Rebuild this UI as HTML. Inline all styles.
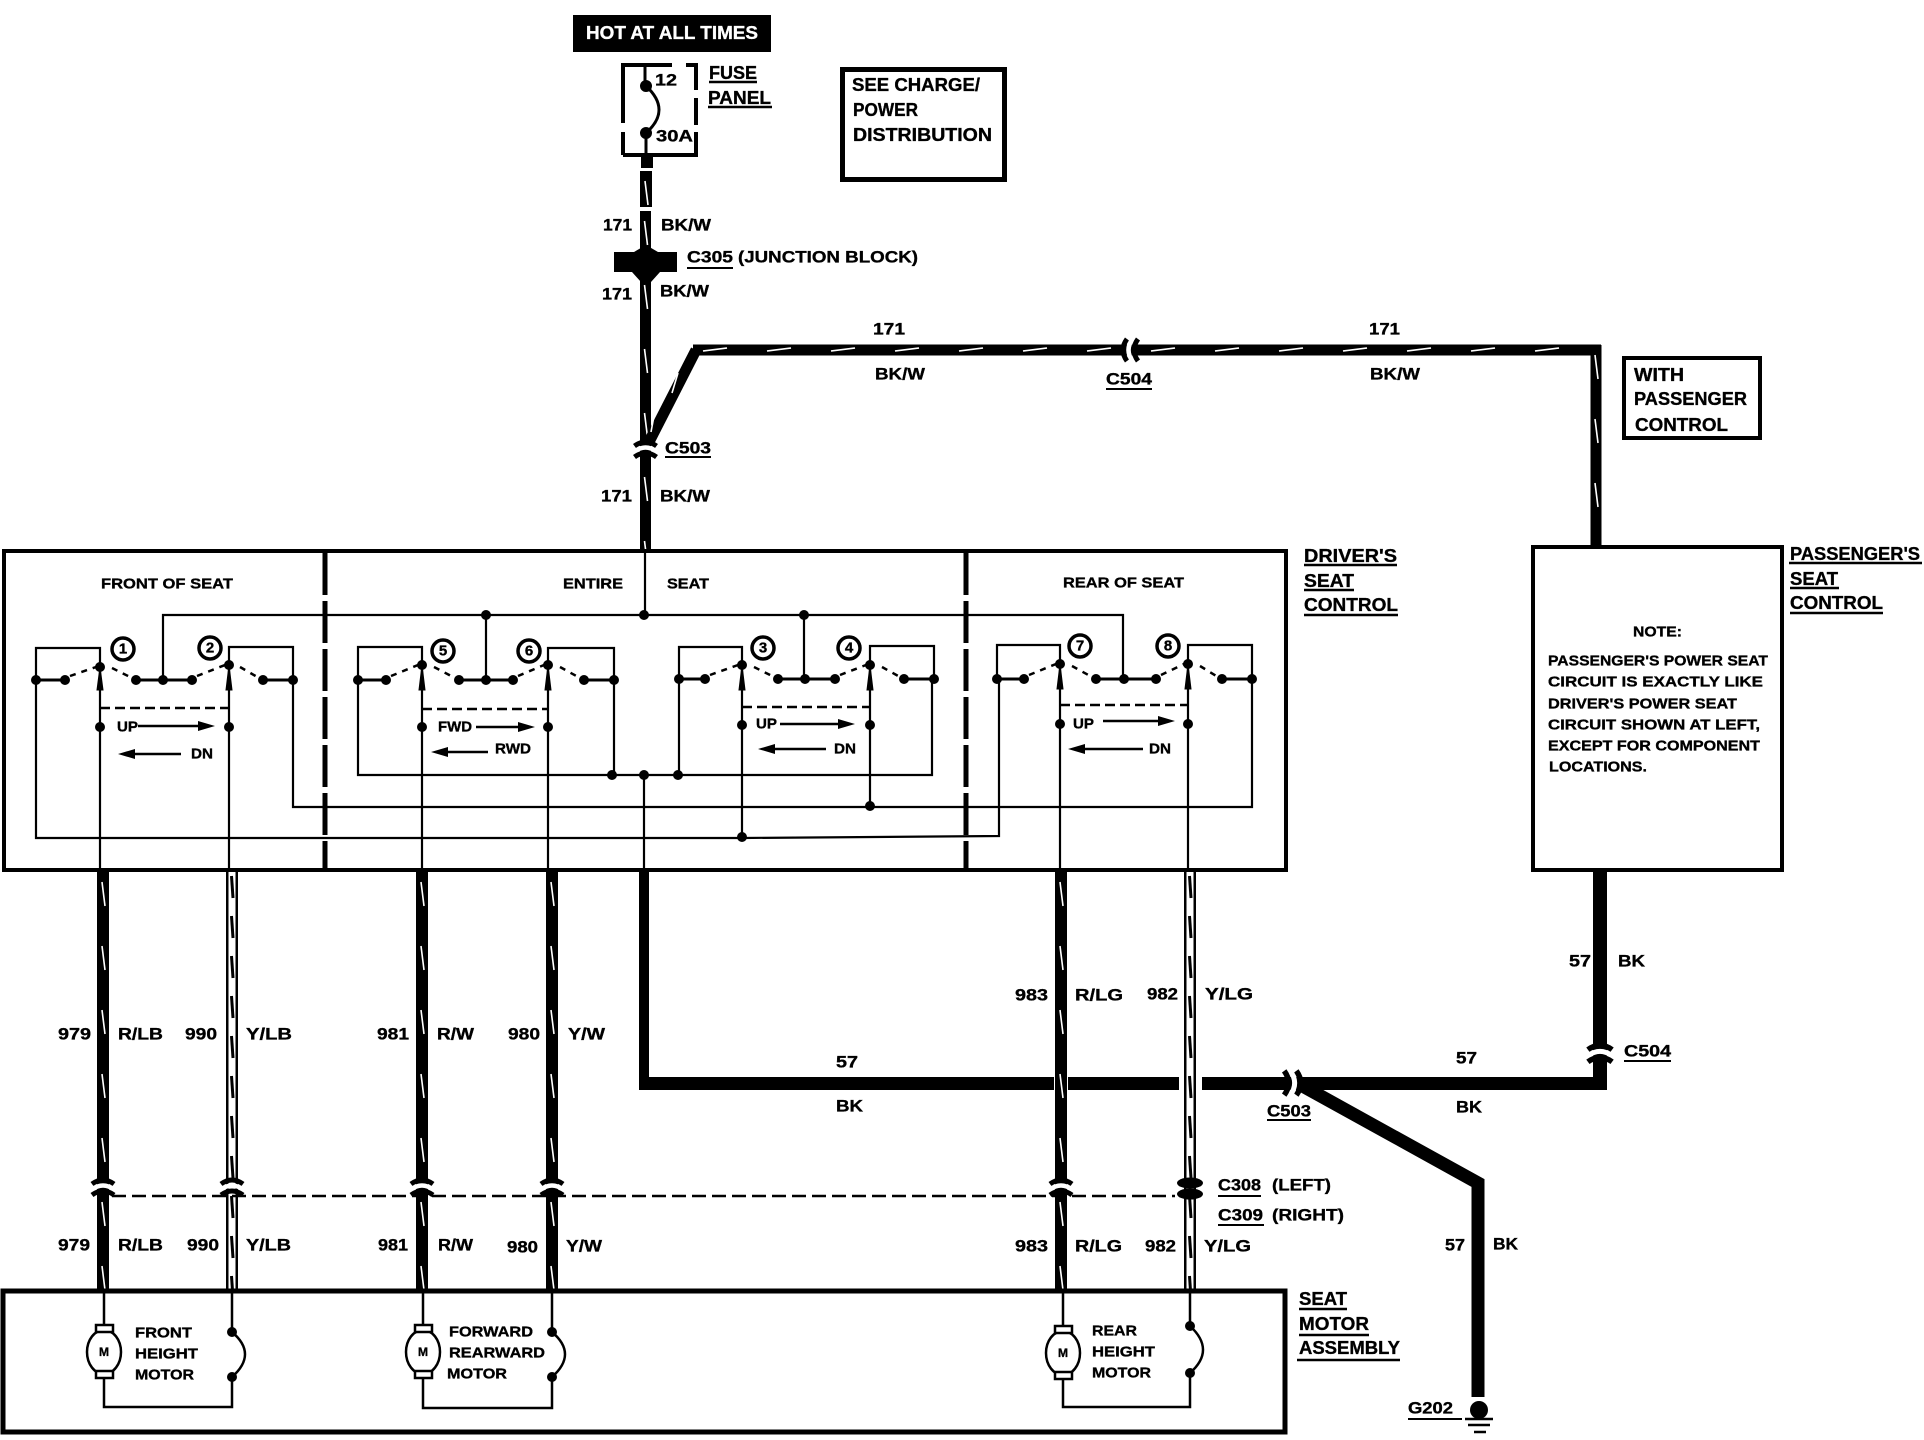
<!DOCTYPE html>
<html><head><meta charset="utf-8"><style>
html,body{margin:0;padding:0;background:#fff}
svg{display:block}
text{font-family:"Liberation Sans",sans-serif;font-weight:bold;font-size:17px;dominant-baseline:central;fill:#000;stroke:#000;stroke-width:.35px}
.s{font-size:15px}
.n{font-size:15px}
</style></head><body>
<svg width="1924" height="1440" viewBox="0 0 1924 1440" xmlns="http://www.w3.org/2000/svg">
<defs>
<pattern id="w" patternUnits="userSpaceOnUse" x="-6" y="0" width="12" height="64">
<rect x="0" y="0" width="12" height="64" fill="#000"/><path d="M5 10L8 34" stroke="#fff" stroke-width="1.6"/>
</pattern>
<pattern id="z" patternUnits="userSpaceOnUse" x="-6" y="0" width="12" height="40">
<rect x="0" y="0" width="12" height="40" fill="#fff"/><rect x="0" y="0" width="2.5" height="40" fill="#000"/><rect x="9.5" y="0" width="2.5" height="40" fill="#000"/><path d="M5.5 4L7 26" stroke="#000" stroke-width="3"/>
</pattern>
<g id="cv"><path d="M-11 -3Q0 -11 11 -3" fill="none" stroke="#000" stroke-width="5"/><path d="M-11 2.5Q0 -5.5 11 2.5" fill="none" stroke="#fff" stroke-width="4.5"/><path d="M-11 8Q0 0 11 8" fill="none" stroke="#000" stroke-width="5"/></g>
<g id="mot"><ellipse cx="0" cy="0" rx="17" ry="22" fill="#fff" stroke="#000" stroke-width="2.5"/><rect x="-8" y="-27" width="17" height="7" fill="#fff" stroke="#000" stroke-width="2.5"/><rect x="-8" y="19" width="17" height="7" fill="#fff" stroke="#000" stroke-width="2.5"/><text x="-5" y="0" class="n" style="font-size:12px">M</text></g>
</defs>

<!-- top -->
<rect x="573" y="15" width="198" height="37" fill="#000"/>
<text x="586" y="33" textLength="172" lengthAdjust="spacingAndGlyphs" style="fill:#fff;stroke:#fff;font-size:18px">HOT AT ALL TIMES</text>
<path d="M623 155V65H672M686 65H696V90M696 98V125M696 132V155H623M623 90V122" fill="none" stroke="#000" stroke-width="4"/>
<path d="M623 123v9" stroke="#fff" stroke-width="5"/>
<path d="M645 65V86M646 86Q672 110 646 133M646 133V155" fill="none" stroke="#000" stroke-width="3"/>
<path d="M646 86h0M646 133h0" stroke="#000" stroke-width="12" stroke-linecap="round"/>
<rect x="641" y="153" width="12" height="15" fill="#000"/>
<text x="655" y="80" textLength="22" lengthAdjust="spacingAndGlyphs">12</text>
<text x="656" y="136" textLength="37" lengthAdjust="spacingAndGlyphs">30A</text>
<text x="709" y="73" textLength="48" lengthAdjust="spacingAndGlyphs" style="font-size:18px">FUSE</text><path d="M709 82h48M708 107h64" stroke="#000" stroke-width="2.5"/>
<text x="708" y="98" textLength="63" lengthAdjust="spacingAndGlyphs" style="font-size:18px">PANEL</text>
<rect x="842.5" y="69.5" width="162" height="110" fill="none" stroke="#000" stroke-width="5"/>
<text x="852" y="85" textLength="128" lengthAdjust="spacingAndGlyphs" style="font-size:18px">SEE CHARGE/</text>
<text x="853" y="110" textLength="65" lengthAdjust="spacingAndGlyphs" style="font-size:18px">POWER</text>
<text x="853" y="135" textLength="139" lengthAdjust="spacingAndGlyphs" style="font-size:18px">DISTRIBUTION</text>

<!-- main feed -->
<rect transform="translate(646,171)" x="-6" y="0" width="12" height="36" fill="url(#w)"/>
<rect transform="translate(645.5,211)" x="-5.5" y="0" width="11" height="340" fill="url(#w)"/>
<path d="M614 252H634L646 245L658 252H677V272H660L651 282H641L632 272H614Z" fill="#000"/>
<path d="M696 350L650 440" stroke="#000" stroke-width="11" fill="none" stroke-linejoin="miter"/>
<path d="M678 373L672 393M654 416L651 432" stroke="#fff" stroke-width="1.6"/>
<rect transform="translate(693,350) rotate(-90)" x="-5.5" y="0" width="11" height="908" fill="url(#w)"/>
<rect x="1590.5" y="345" width="11" height="10" fill="#000"/>
<rect transform="translate(1596,345)" x="-5.5" y="0" width="11" height="202" fill="url(#w)"/>
<use href="#cv" transform="translate(1130,350) rotate(-90)"/>
<use href="#cv" transform="translate(645.5,449)"/>
<text x="603" y="225" textLength="29" lengthAdjust="spacingAndGlyphs">171</text>
<text x="661" y="225" textLength="50" lengthAdjust="spacingAndGlyphs">BK/W</text>
<text x="687" y="257" textLength="46" lengthAdjust="spacingAndGlyphs">C305</text><path d="M687 268h46" stroke="#000" stroke-width="2"/>
<text x="738" y="257" textLength="180" lengthAdjust="spacingAndGlyphs">(JUNCTION BLOCK)</text>
<text x="602" y="294" textLength="30" lengthAdjust="spacingAndGlyphs">171</text>
<text x="660" y="291" textLength="49" lengthAdjust="spacingAndGlyphs">BK/W</text>
<text x="665" y="448" textLength="46" lengthAdjust="spacingAndGlyphs">C503</text><path d="M665 457h46" stroke="#000" stroke-width="2"/>
<text x="601" y="496" textLength="31" lengthAdjust="spacingAndGlyphs">171</text>
<text x="660" y="496" textLength="50" lengthAdjust="spacingAndGlyphs">BK/W</text>
<text x="873" y="329" textLength="32" lengthAdjust="spacingAndGlyphs">171</text>
<text x="875" y="374" textLength="50" lengthAdjust="spacingAndGlyphs">BK/W</text>
<text x="1106" y="379" textLength="46" lengthAdjust="spacingAndGlyphs">C504</text><path d="M1106 389h46" stroke="#000" stroke-width="2"/>
<text x="1369" y="329" textLength="31" lengthAdjust="spacingAndGlyphs">171</text>
<text x="1370" y="374" textLength="50" lengthAdjust="spacingAndGlyphs">BK/W</text>

<!-- with passenger -->
<rect x="1624" y="358" width="136" height="80" fill="none" stroke="#000" stroke-width="4"/>
<text x="1634" y="375" textLength="50" lengthAdjust="spacingAndGlyphs" style="font-size:18px">WITH</text>
<text x="1634" y="399" textLength="113" lengthAdjust="spacingAndGlyphs" style="font-size:18px">PASSENGER</text>
<text x="1635" y="425" textLength="93" lengthAdjust="spacingAndGlyphs" style="font-size:18px">CONTROL</text>

<!-- passenger box -->
<rect x="1533" y="547" width="249" height="323" fill="#fff" stroke="#000" stroke-width="4"/>
<text x="1790" y="554" textLength="130" lengthAdjust="spacingAndGlyphs" style="font-size:18px">PASSENGER'S</text><path d="M1789 563h133M1790 588h49M1790 613h93" stroke="#000" stroke-width="2.5"/>
<text x="1790" y="579" textLength="48" lengthAdjust="spacingAndGlyphs" style="font-size:18px">SEAT</text>
<text x="1790" y="603" textLength="93" lengthAdjust="spacingAndGlyphs" style="font-size:18px">CONTROL</text>
<text x="1633" y="632" textLength="49" lengthAdjust="spacingAndGlyphs" class="s">NOTE:</text>
<text x="1548" y="661" textLength="220" lengthAdjust="spacingAndGlyphs" class="s">PASSENGER'S POWER SEAT</text>
<text x="1548" y="682" textLength="215" lengthAdjust="spacingAndGlyphs" class="s">CIRCUIT IS EXACTLY LIKE</text>
<text x="1548" y="704" textLength="189" lengthAdjust="spacingAndGlyphs" class="s">DRIVER'S POWER SEAT</text>
<text x="1548" y="725" textLength="212" lengthAdjust="spacingAndGlyphs" class="s">CIRCUIT SHOWN AT LEFT,</text>
<text x="1548" y="746" textLength="212" lengthAdjust="spacingAndGlyphs" class="s">EXCEPT FOR COMPONENT</text>
<text x="1549" y="767" textLength="98" lengthAdjust="spacingAndGlyphs" class="s">LOCATIONS.</text>

<!-- bottom black wires -->
<rect x="639" y="870" width="10" height="219" fill="#000"/>
<rect x="639" y="1077" width="540" height="13" fill="#000"/>
<rect x="1202" y="1077" width="405" height="13" fill="#000"/>
<rect x="1593" y="870" width="14" height="220" fill="#000"/>
<use href="#cv" transform="translate(1600,1053) scale(1.1)"/>
<use href="#cv" transform="translate(1293,1083) rotate(90) scale(1.1)"/>
<path d="M1299 1084L1478 1183V1397" fill="none" stroke="#000" stroke-width="13"/>
<circle cx="1479" cy="1410" r="9" fill="#000"/>
<path d="M1465 1419h28M1468 1425h22M1474 1432h12" stroke="#000" stroke-width="2.5"/>
<path d="M1408 1419h54" stroke="#000" stroke-width="2"/>
<text x="1408" y="1408" textLength="45" lengthAdjust="spacingAndGlyphs">G202</text>

<!-- vertical wires -->
<rect x="1054" y="1072" width="14" height="23" fill="#fff"/>
<rect transform="translate(103,872)" x="-6" y="0" width="12" height="420" fill="url(#w)"/>
<rect transform="translate(232,872)" x="-6" y="0" width="12" height="420" fill="url(#z)"/>
<rect transform="translate(422,872)" x="-6" y="0" width="12" height="420" fill="url(#w)"/>
<rect transform="translate(552,872)" x="-6" y="0" width="12" height="420" fill="url(#w)"/>
<rect transform="translate(1061,872)" x="-6" y="0" width="12" height="420" fill="url(#w)"/>
<rect transform="translate(1190,872)" x="-6" y="0" width="12" height="420" fill="url(#z)"/>
<path d="M112 1196H1175" stroke="#000" stroke-width="2.5" stroke-dasharray="14 6"/>
<use href="#cv" transform="translate(103,1187)"/>
<use href="#cv" transform="translate(232,1187)"/>
<use href="#cv" transform="translate(422,1187)"/>
<use href="#cv" transform="translate(552,1187)"/>
<use href="#cv" transform="translate(1061,1187)"/>
<ellipse cx="1190" cy="1183" rx="13" ry="5.5" fill="#000"/>
<ellipse cx="1190" cy="1194" rx="13" ry="5.5" fill="#000"/>

<!-- wire labels upper -->
<text x="58" y="1034" textLength="33" lengthAdjust="spacingAndGlyphs">979</text>
<text x="118" y="1034" textLength="45" lengthAdjust="spacingAndGlyphs">R/LB</text>
<text x="185" y="1034" textLength="32" lengthAdjust="spacingAndGlyphs">990</text>
<text x="246" y="1034" textLength="46" lengthAdjust="spacingAndGlyphs">Y/LB</text>
<text x="377" y="1034" textLength="32" lengthAdjust="spacingAndGlyphs">981</text>
<text x="437" y="1034" textLength="37" lengthAdjust="spacingAndGlyphs">R/W</text>
<text x="508" y="1034" textLength="32" lengthAdjust="spacingAndGlyphs">980</text>
<text x="568" y="1034" textLength="37" lengthAdjust="spacingAndGlyphs">Y/W</text>
<text x="1015" y="995" textLength="33" lengthAdjust="spacingAndGlyphs">983</text>
<text x="1075" y="995" textLength="48" lengthAdjust="spacingAndGlyphs">R/LG</text>
<text x="1147" y="994" textLength="31" lengthAdjust="spacingAndGlyphs">982</text>
<text x="1205" y="994" textLength="48" lengthAdjust="spacingAndGlyphs">Y/LG</text>
<!-- wire labels lower -->
<text x="58" y="1245" textLength="32" lengthAdjust="spacingAndGlyphs">979</text>
<text x="118" y="1245" textLength="45" lengthAdjust="spacingAndGlyphs">R/LB</text>
<text x="187" y="1245" textLength="32" lengthAdjust="spacingAndGlyphs">990</text>
<text x="246" y="1245" textLength="45" lengthAdjust="spacingAndGlyphs">Y/LB</text>
<text x="378" y="1245" textLength="30" lengthAdjust="spacingAndGlyphs">981</text>
<text x="438" y="1245" textLength="35" lengthAdjust="spacingAndGlyphs">R/W</text>
<text x="507" y="1247" textLength="31" lengthAdjust="spacingAndGlyphs">980</text>
<text x="566" y="1246" textLength="36" lengthAdjust="spacingAndGlyphs">Y/W</text>
<text x="1015" y="1246" textLength="33" lengthAdjust="spacingAndGlyphs">983</text>
<text x="1075" y="1246" textLength="47" lengthAdjust="spacingAndGlyphs">R/LG</text>
<text x="1145" y="1246" textLength="31" lengthAdjust="spacingAndGlyphs">982</text>
<text x="1204" y="1246" textLength="47" lengthAdjust="spacingAndGlyphs">Y/LG</text>
<text x="836" y="1062" textLength="22" lengthAdjust="spacingAndGlyphs">57</text>
<text x="836" y="1106" textLength="27" lengthAdjust="spacingAndGlyphs">BK</text>
<text x="1456" y="1058" textLength="21" lengthAdjust="spacingAndGlyphs">57</text>
<text x="1456" y="1107" textLength="26" lengthAdjust="spacingAndGlyphs">BK</text>
<text x="1569" y="961" textLength="22" lengthAdjust="spacingAndGlyphs">57</text>
<text x="1618" y="961" textLength="27" lengthAdjust="spacingAndGlyphs">BK</text>
<text x="1445" y="1245" textLength="20" lengthAdjust="spacingAndGlyphs">57</text>
<text x="1493" y="1244" textLength="25" lengthAdjust="spacingAndGlyphs">BK</text>
<text x="1624" y="1051" textLength="47" lengthAdjust="spacingAndGlyphs">C504</text><path d="M1624 1061h47" stroke="#000" stroke-width="2"/>
<text x="1267" y="1111" textLength="44" lengthAdjust="spacingAndGlyphs">C503</text><path d="M1267 1120h44" stroke="#000" stroke-width="2"/>
<text x="1218" y="1185" textLength="43" lengthAdjust="spacingAndGlyphs">C308</text><path d="M1218 1196h43M1218 1225h46" stroke="#000" stroke-width="2"/>
<text x="1272" y="1185" textLength="59" lengthAdjust="spacingAndGlyphs">(LEFT)</text>
<text x="1218" y="1215" textLength="45" lengthAdjust="spacingAndGlyphs">C309</text>
<text x="1272" y="1215" textLength="72" lengthAdjust="spacingAndGlyphs">(RIGHT)</text>

<!-- driver box -->
<rect x="4" y="551" width="1282" height="319" fill="#fff" stroke="#000" stroke-width="4"/>
<path d="M325 553V870M966 553V870" stroke="#000" stroke-width="5" stroke-dasharray="42 6"/>
<text x="1304" y="556" textLength="93" lengthAdjust="spacingAndGlyphs" style="font-size:18px">DRIVER'S</text><path d="M1304 565h93M1304 590h50M1304 615h94" stroke="#000" stroke-width="2.5"/>
<text x="1304" y="581" textLength="50" lengthAdjust="spacingAndGlyphs" style="font-size:18px">SEAT</text>
<text x="1304" y="605" textLength="94" lengthAdjust="spacingAndGlyphs" style="font-size:18px">CONTROL</text>
<text x="101" y="584" textLength="132" lengthAdjust="spacingAndGlyphs" class="s">FRONT OF SEAT</text>
<text x="563" y="584" textLength="60" lengthAdjust="spacingAndGlyphs" class="s">ENTIRE</text>
<text x="667" y="584" textLength="42" lengthAdjust="spacingAndGlyphs" class="s">SEAT</text>
<text x="1063" y="583" textLength="121" lengthAdjust="spacingAndGlyphs" class="s">REAR OF SEAT</text>

<!-- schematic thin lines -->
<path d="M645 551V615M163 680V615H1123V679M486 615V680M804 615V679
M36 680V648H100V667M229 665V647H293V680M293 680V807H1252V679
M36 680V838H742L999 836V679
M358 680V647H422V665M548 665V648H614V680M358 680V775H932V679M614 680V775M644 775V870
M679 679V647H742V665M870 665V646H934V679M679 679V775
M997 679V645H1060V664M1188 664V645H1252V679" fill="none" stroke="#000" stroke-width="2.2"/>
<path d="M100 667V870M229 665V870M422 665V870M548 665V870M742 665V837M870 665V806M1060 664V870M1188 664V870" fill="none" stroke="#000" stroke-width="2.2"/>
<!-- contact thick bars -->
<path d="M36 680H65M136 680H192M263 680H293M358 680H386M459 680H513M584 680H614M679 679H705M778 679H835M904 679H934M997 679H1024M1096 679H1156M1222 679H1252" stroke="#000" stroke-width="3"/>
<!-- dashed blades -->
<g fill="none" stroke="#000" stroke-width="2.5" stroke-dasharray="6 6">
<path d="M70 676L96 667M112 668L132 678M197 676L225 665M240 667L259 678"/>
<path d="M391 676L418 665M434 667L455 678M518 676L544 665M560 667L580 678"/>
<path d="M710 675L738 665M754 667L774 677M840 675L866 665M882 667L900 677"/>
<path d="M1029 675L1056 664M1072 666L1092 677M1161 675L1184 664M1200 666L1218 677"/>
</g>
<path d="M100 708H229M422 709H548M742 707H870M1060 705H1188" stroke="#000" stroke-width="2.5" stroke-dasharray="10 5"/>
<!-- nodes -->
<path d="M36 680h0M65 680h0M100 667h0M136 680h0M163 680h0M192 680h0M229 665h0M263 680h0M293 680h0M100 727h0M229 727h0
M358 680h0M386 680h0M422 665h0M459 680h0M486 680h0M513 680h0M548 665h0M584 680h0M614 680h0M422 727h0M548 727h0
M679 679h0M705 679h0M742 665h0M778 679h0M805 679h0M835 679h0M870 665h0M904 679h0M934 679h0M742 725h0M870 725h0
M997 679h0M1024 679h0M1060 664h0M1096 679h0M1124 679h0M1156 679h0M1188 664h0M1222 679h0M1252 679h0M1060 724h0M1188 724h0
M486 615h0M644 615h0M804 615h0M612 775h0M644 775h0M678 775h0M870 806h0M742 837h0" stroke="#000" stroke-width="10" stroke-linecap="round"/>
<!-- pivot arrows -->
<path d="M100 667L97 690H103ZM229 665L226 690H232ZM422 665L419 690H425ZM548 665L545 690H551ZM742 665L739 690H745ZM870 665L867 690H873ZM1060 664L1057 689H1063ZM1188 664L1185 689H1191Z" fill="#000" stroke="#000" stroke-width="1"/>
<!-- numbered circles -->
<g fill="#fff" stroke="#000" stroke-width="3.5">
<ellipse cx="123" cy="649" rx="11" ry="11"/><ellipse cx="210" cy="648" rx="11" ry="11"/><ellipse cx="443" cy="651" rx="11" ry="11"/><ellipse cx="529" cy="651" rx="11" ry="11"/><ellipse cx="763" cy="648" rx="11" ry="11"/><ellipse cx="849" cy="648" rx="11" ry="11"/><ellipse cx="1080" cy="646" rx="11" ry="11"/><ellipse cx="1168" cy="646" rx="11" ry="11"/>
</g>
<g>
<text x="123" y="649" class="s" text-anchor="middle">1</text><text x="210" y="648" class="s" text-anchor="middle">2</text><text x="443" y="651" class="s" text-anchor="middle">5</text><text x="529" y="651" class="s" text-anchor="middle">6</text><text x="763" y="648" class="s" text-anchor="middle">3</text><text x="849" y="648" class="s" text-anchor="middle">4</text><text x="1080" y="646" class="s" text-anchor="middle">7</text><text x="1168" y="646" class="s" text-anchor="middle">8</text>
</g>
<!-- direction arrows -->
<path d="M138 726H205M181 754H128M476 727H525M488 752H441M780 724H845M826 749H768M1103 721H1165M1143 749H1078" stroke="#000" stroke-width="2.5"/>
<path d="M215 726L198 721V731ZM118 754L135 749V759ZM535 727L518 722V732ZM431 752L448 747V757ZM855 724L838 719V729ZM758 749L775 744V754ZM1175 721L1158 716V726ZM1068 749L1085 744V754Z" fill="#000"/>
<text x="117" y="727" textLength="21" lengthAdjust="spacingAndGlyphs" class="s">UP</text>
<text x="191" y="754" textLength="22" lengthAdjust="spacingAndGlyphs" class="s">DN</text>
<text x="438" y="727" textLength="34" lengthAdjust="spacingAndGlyphs" class="s">FWD</text>
<text x="495" y="749" textLength="36" lengthAdjust="spacingAndGlyphs" class="s">RWD</text>
<text x="756" y="724" textLength="21" lengthAdjust="spacingAndGlyphs" class="s">UP</text>
<text x="834" y="749" textLength="22" lengthAdjust="spacingAndGlyphs" class="s">DN</text>
<text x="1073" y="724" textLength="21" lengthAdjust="spacingAndGlyphs" class="s">UP</text>
<text x="1149" y="749" textLength="22" lengthAdjust="spacingAndGlyphs" class="s">DN</text>

<!-- motor assembly -->
<rect x="3" y="1291" width="1282" height="141" fill="#fff" stroke="#000" stroke-width="5"/>
<text x="1299" y="1299" textLength="48" lengthAdjust="spacingAndGlyphs" style="font-size:18px">SEAT</text><path d="M1299 1309h48M1299 1335h70M1297 1360h103" stroke="#000" stroke-width="2.5"/>
<text x="1299" y="1324" textLength="70" lengthAdjust="spacingAndGlyphs" style="font-size:18px">MOTOR</text>
<text x="1299" y="1348" textLength="101" lengthAdjust="spacingAndGlyphs" style="font-size:18px">ASSEMBLY</text>
<path d="M104 1291V1407H232V1291M423 1291V1408H552V1291M1063 1291V1407H1190V1291" fill="none" stroke="#000" stroke-width="2.5"/>
<rect x="229" y="1335" width="6" height="40" fill="#fff"/><rect x="549" y="1335" width="6" height="40" fill="#fff"/><rect x="1187" y="1329" width="6" height="42" fill="#fff"/>
<path d="M232 1332Q258 1354 232 1377M552 1332Q578 1354 552 1377M1190 1326Q1216 1350 1190 1373" fill="none" stroke="#000" stroke-width="2.5"/>
<path d="M232 1332h0M232 1377h0M552 1332h0M552 1377h0M1190 1326h0M1190 1373h0" stroke="#000" stroke-width="10" stroke-linecap="round"/>
<use href="#mot" transform="translate(104,1352)"/>
<use href="#mot" transform="translate(423,1352)"/>
<use href="#mot" transform="translate(1063,1353)"/>
<text x="135" y="1333" textLength="57" lengthAdjust="spacingAndGlyphs" class="n">FRONT</text>
<text x="135" y="1354" textLength="63" lengthAdjust="spacingAndGlyphs" class="n">HEIGHT</text>
<text x="135" y="1375" textLength="59" lengthAdjust="spacingAndGlyphs" class="n">MOTOR</text>
<text x="449" y="1332" textLength="84" lengthAdjust="spacingAndGlyphs" class="n">FORWARD</text>
<text x="449" y="1353" textLength="96" lengthAdjust="spacingAndGlyphs" class="n">REARWARD</text>
<text x="447" y="1374" textLength="60" lengthAdjust="spacingAndGlyphs" class="n">MOTOR</text>
<text x="1092" y="1331" textLength="45" lengthAdjust="spacingAndGlyphs" class="n">REAR</text>
<text x="1092" y="1352" textLength="63" lengthAdjust="spacingAndGlyphs" class="n">HEIGHT</text>
<text x="1092" y="1373" textLength="59" lengthAdjust="spacingAndGlyphs" class="n">MOTOR</text>
</svg>
</body></html>
